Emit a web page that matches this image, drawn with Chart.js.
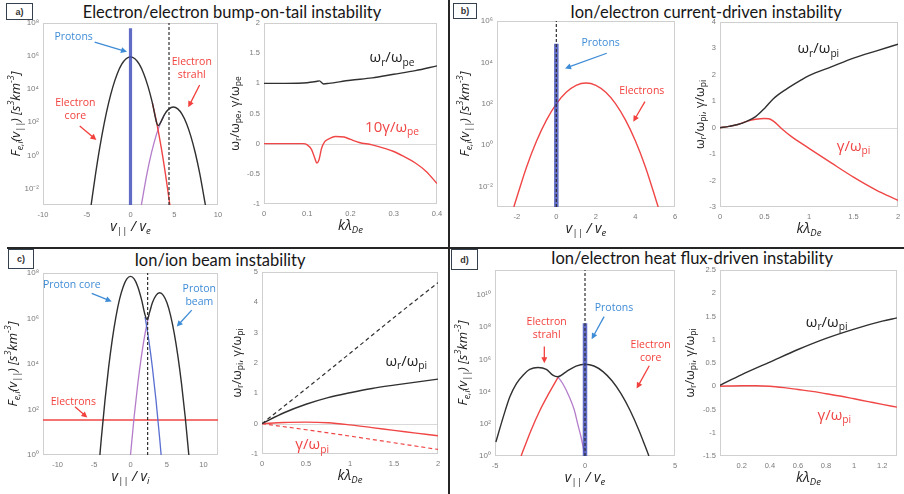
<!DOCTYPE html>
<html>
<head>
<meta charset="utf-8">
<title>Kinetic instabilities</title>
<script src="https://cdn.jsdelivr.net/npm/chart.js@4.4.1/dist/chart.umd.min.js"></script>
<style>
  body { margin: 0; width: 904px; height: 494px; position: relative; overflow: hidden; background: #fff; }
  canvas { position: absolute; }
  .title { position: absolute; transform: translate(-50%, -50%); font: 16.5px Lato, sans-serif; color: #161616; white-space: nowrap; }
  .tag { position: absolute; box-sizing: border-box; border: 1.6px solid #34404c; background: #fff; font: bold 9px 'Liberation Sans', sans-serif; color: #333; display: flex; align-items: center; justify-content: center; }
  .rule { position: absolute; background: #262626; }
</style>
</head>
<body>
<div class="rule" style="left:448px;top:0;width:2px;height:494px"></div>
<div class="rule" style="left:7px;top:247px;width:897px;height:2px"></div>
<div class="tag" style="left:6px;top:3px;width:27px;height:17px">a)</div>
<div class="tag" style="left:453px;top:3px;width:24px;height:16px">b)</div>
<div class="tag" style="left:8px;top:249px;width:26px;height:20px">c)</div>
<div class="tag" style="left:451px;top:249px;width:27px;height:21px">d)</div>
<div class="title" style="left:232px;top:12px">Electron/electron bump-on-tail instability</div>
<div class="title" style="left:706px;top:12px">Ion/electron current-driven instability</div>
<div class="title" style="left:220px;top:260px">Ion/ion beam instability</div>
<div class="title" style="left:692px;top:258px">Ion/electron heat flux-driven instability</div>
<script>
// ---------- a) bump-on-tail : distributions, log10 F ----------
const aTotalV = [-4.5, -4, -3.5, -3, -2.5, -2, -1.5, -1, -0.5, 0, 0.5, 1, 1.5, 2, 2.5, 3, 3.15, 3.4, 3.9, 4.4, 4.9, 5.4, 5.9, 6.4, 6.9, 7.4, 7.9, 8.56];
const aTotalLogF = [-3, -1.15, 0.51, 1.95, 3.17, 4.17, 4.95, 5.51, 5.84, 5.95, 5.84, 5.51, 4.95, 4.17, 3.17, 1.95, 1.8, 1.95, 2.48, 2.81, 2.92, 2.81, 2.48, 1.93, 1.15, 0.16, -1.06, -3];
const aCoreV = [2.5, 3, 3.5, 4, 4.5];
const aCoreLogF = [3.17, 1.95, 0.51, -1.15, -3];
const aStrahlV = [1.24, 1.9, 2.4, 2.9, 3.4, 3.9];
const aStrahlLogF = [-3, -1.06, 0.16, 1.15, 1.93, 2.48];
const aProtonV = [0, 0];
const aProtonLogF = [-3, 7.68];
const aDashV = 4.4;
// a) dispersion
const aWrK = [0, 0.05, 0.1, 0.12, 0.128, 0.138, 0.15, 0.2, 0.25, 0.3, 0.35, 0.4];
const aWr = [1.0, 1.0, 1.01, 1.03, 1.04, 0.99, 1.0, 1.05, 1.09, 1.15, 1.21, 1.29];
const aGamK = [0, 0.09, 0.1, 0.11, 0.118, 0.122, 0.127, 0.133, 0.14, 0.15, 0.165, 0.185, 0.2, 0.22, 0.25, 0.275, 0.3, 0.325, 0.35, 0.375, 0.4];
const aGam10 = [0, 0, -0.02, -0.1, -0.25, -0.32, -0.27, -0.08, 0.03, 0.08, 0.12, 0.11, 0.07, 0.02, -0.02, -0.07, -0.13, -0.22, -0.32, -0.46, -0.66];

// ---------- b) current-driven ----------
const bElecV = [-2.15, -1.5, -1, -0.5, 0, 0.5, 1, 1.5, 2, 2.5, 3, 3.5, 4, 4.5, 5.15];
const bElecLogF = [-3, -1.05, 0.19, 1.2, 1.99, 2.55, 2.89, 3.0, 2.89, 2.55, 1.99, 1.2, 0.19, -1.05, -3];
const bProtonV = [0, 0];
const bProtonLogF = [-3, 4.9];
const bDashV = 0;
const bK = [0, 0.1, 0.2, 0.3, 0.4, 0.5, 0.6, 0.75, 0.9, 1.0, 1.25, 1.5, 1.75, 2.0];
const bWr = [0, 0.05, 0.12, 0.24, 0.42, 0.73, 1.1, 1.47, 1.78, 1.97, 2.3, 2.63, 2.9, 3.16];
const bGamK = [0, 0.1, 0.2, 0.3, 0.4, 0.5, 0.55, 0.6, 0.7, 0.8, 1.0, 1.25, 1.5, 1.75, 2.0];
const bGam = [0, 0.05, 0.12, 0.24, 0.32, 0.35, 0.34, 0.25, -0.06, -0.33, -0.78, -1.33, -1.87, -2.35, -2.75];

// ---------- c) ion/ion beam ----------
const cTotalV = [-4.2, -4, -3.5, -3, -2.5, -2, -1.5, -1, -0.5, 0, 0.5, 1, 1.5, 2, 2.3, 2.6, 3, 3.5, 4, 4.5, 5, 5.5, 6, 6.5, 7, 7.5, 8];
const cTotalLogF = [0, 0.73, 2.4, 3.85, 5.07, 6.07, 6.85, 7.4, 7.74, 7.85, 7.74, 7.4, 6.85, 6.15, 5.95, 6.25, 6.69, 7.02, 7.13, 7.02, 6.69, 6.13, 5.35, 4.35, 3.13, 1.68, 0];
const cCoreV = [2, 2.5, 3, 3.5, 4, 4.2];
const cCoreLogF = [6.07, 5.07, 3.85, 2.4, 0.73, 0];
const cBeamV = [0, 0.5, 1, 1.5, 2, 2.5];
const cBeamLogF = [0, 1.68, 3.13, 4.35, 5.35, 6.13];
const cElecV = [-12, 12];
const cElecLogF = [1.54, 1.54];
const cDashV = 2.35;
const cK = [0, 0.25, 0.5, 0.75, 1, 1.25, 1.5, 1.75, 2];
const cWr = [0, 0.36, 0.64, 0.86, 1.02, 1.16, 1.27, 1.37, 1.47];
const cGam = [0, 0.04, 0.05, 0.03, -0.04, -0.13, -0.22, -0.31, -0.4];
const cDashK = [0, 0.5, 1, 1.5, 2];
const cWrDash = [0, 1.15, 2.32, 3.5, 4.65];
const cGamDash = [0, -0.2, -0.41, -0.63, -0.85];

// ---------- d) heat flux-driven ----------
const dTotalV = [-4.95, -4.54, -4.18, -3.81, -3.44, -3.07, -2.61, -2.15, -1.79, -1.51, -1.05, -0.5, 0, 0.5, 1, 1.5, 2, 2.5, 3, 3.55];
const dTotalLogF = [0.87, 2.43, 3.67, 4.5, 5.02, 5.38, 5.5, 5.38, 5.02, 4.92, 5.23, 5.58, 5.7, 5.59, 5.24, 4.67, 3.87, 2.84, 1.59, 0];
const dCoreV = [-3.55, -3, -2.5, -2, -1.5];
const dCoreLogF = [0, 1.59, 2.84, 3.9, 4.88];
const dStrahlV = [-1.51, -1.24, -0.87, -0.59, -0.41, -0.22, 0];
const dStrahlLogF = [4.92, 4.5, 3.67, 2.84, 2.01, 1.18, 0];
const dProtonV = [0, 0];
const dProtonLogF = [0, 8.24];
const dDashV = 0;
const dK = [0.045, 0.2, 0.4, 0.6, 0.8, 1.0, 1.2, 1.305];
const dWr = [0.02, 0.25, 0.52, 0.79, 1.03, 1.23, 1.4, 1.47];
const dGamK = [0.045, 0.2, 0.3, 0.4, 0.5, 0.6, 0.7, 0.8, 0.9, 1.0, 1.1, 1.2, 1.305];
const dGam = [0, 0.01, 0.01, 0, -0.03, -0.07, -0.11, -0.16, -0.21, -0.27, -0.33, -0.39, -0.45];

// tick labels
const aLeftXTicks = [-10, -5, 0, 5, 10], aLeftYExp = [-2, 0, 2, 4, 6, 8];
const aRightXTicks = [0, 0.1, 0.2, 0.3, 0.4], aRightYTicks = [-1, -0.5, 0, 0.5, 1, 1.5, 2];
const bLeftXTicks = [-2, 0, 2, 4, 6], bLeftYExp = [-2, 0, 2, 4, 6];
const bRightXTicks = [0, 0.5, 1, 1.5, 2], bRightYTicks = [-3, -2, -1, 0, 1, 2, 3, 4];
const cLeftXTicks = [-10, -5, 0, 5, 10], cLeftYExp = [0, 2, 4, 6, 8];
const cRightXTicks = [0, 0.5, 1, 1.5, 2], cRightYTicks = [-1, 0, 1, 2, 3, 4, 5];
const dLeftXTicks = [-5, 0, 5], dLeftYExp = [0, 2, 4, 6, 8, 10];
const dRightXTicks = [0.2, 0.4, 0.6, 0.8, 1, 1.2], dRightYTicks = [-1.5, -1, -0.5, 0, 0.5, 1, 1.5, 2, 2.5];

const TICK_FONT = "'Liberation Sans', Arial, sans-serif";
const TEXT_FONT = "'Open Sans', 'DejaVu Sans', sans-serif";
const INK = '#303030', RED = '#f04646', MAGENTA = '#b47ccb', PROTON = 'rgba(62,76,186,0.82)';
const NOTE_RED = '#f2403c', NOTE_BLUE = '#3f8cd6';

const SUP = { '0': '⁰', '1': '¹', '2': '²', '3': '³', '4': '⁴', '5': '⁵', '6': '⁶', '7': '⁷', '8': '⁸', '9': '⁹', '-': '⁻' };
const sup = n => String(n).split('').map(c => SUP[c]).join('');

// "a_{b}^{c}" -> pieces with sub/sup mode
function richParts(s) {
    const out = [];
    let buf = '', i = 0;
    while (i < s.length) {
        const c = s[i];
        if ((c === '_' || c === '^') && s[i + 1] === '{') {
            if (buf) { out.push({ t: buf, m: 0 }); buf = ''; }
            const j = s.indexOf('}', i);
            out.push({ t: s.slice(i + 2, j), m: c === '_' ? -1 : 1 });
            i = j + 1;
        } else { buf += c; i++; }
    }
    if (buf) out.push({ t: buf, m: 0 });
    return out;
}

function drawRich(ctx, s, x, y, size, color, italic) {
    const parts = richParts(s);
    const font = sz => (italic ? 'italic ' : '') + sz + 'px ' + TEXT_FONT;
    let w = 0;
    parts.forEach(p => { ctx.font = font(p.m ? size * 0.68 : size); p.w = ctx.measureText(p.t).width; w += p.w; });
    let cx = x - w / 2;
    ctx.fillStyle = color;
    ctx.textAlign = 'left';
    ctx.textBaseline = 'middle';
    parts.forEach(p => {
        ctx.font = font(p.m ? size * 0.68 : size);
        const dy = p.m === -1 ? size * 0.32 : p.m === 1 ? -size * 0.36 : 0;
        ctx.fillText(p.t, cx, y + dy);
        cx += p.w;
    });
}

function drawArrow(ctx, x1, y1, x2, y2, color) {
    const ang = Math.atan2(y2 - y1, x2 - x1), L = 6, W = 3;
    const c = Math.cos(ang), s = Math.sin(ang);
    ctx.strokeStyle = color; ctx.fillStyle = color; ctx.lineWidth = 1.3;
    ctx.beginPath(); ctx.moveTo(x1, y1); ctx.lineTo(x2 - L * 0.7 * c, y2 - L * 0.7 * s); ctx.stroke();
    ctx.beginPath(); ctx.moveTo(x2, y2);
    ctx.lineTo(x2 - L * c + W * s, y2 - L * s - W * c);
    ctx.lineTo(x2 - L * c - W * s, y2 - L * s + W * c);
    ctx.closePath(); ctx.fill();
}

// axis box, zero line, axis titles, labels and arrows
const deco = {
    id: 'deco',
    beforeDatasetsDraw(chart, args, o) {
        const { ctx, chartArea: a } = chart;
        ctx.save();
        ctx.lineWidth = 1;
        if (o.zero) {
            const y0 = Math.round(chart.scales.y.getPixelForValue(0)) + 0.5;
            ctx.strokeStyle = '#d9d9d9';
            ctx.beginPath(); ctx.moveTo(a.left, y0); ctx.lineTo(a.right, y0); ctx.stroke();
        }
        ctx.strokeStyle = '#cfcfcf';
        ctx.strokeRect(a.left + 0.5, a.top + 0.5, a.width - 1, a.height - 1);
        ctx.restore();
    },
    afterDatasetsDraw(chart, args, o) {
        const { ctx, chartArea: a, scales } = chart;
        ctx.save();
        drawRich(ctx, o.xTitle, (a.left + a.right) / 2, a.bottom + 22, 14, '#222', true);
        ctx.save();
        ctx.translate(a.left - o.yGap, (a.top + a.bottom) / 2);
        ctx.rotate(-Math.PI / 2);
        drawRich(ctx, o.yTitle, 0, 0, o.ySize, '#222', o.yItalic);
        ctx.restore();
        (o.notes || []).forEach(n => {
            const px = scales.x.getPixelForValue(n.x), py = scales.y.getPixelForValue(n.y);
            const lines = [].concat(n.text), lh = n.size * 1.25;
            lines.forEach((t, i) => drawRich(ctx, t, px, py + (i - (lines.length - 1) / 2) * lh, n.size, n.color, false));
        });
        (o.arrows || []).forEach(r => drawArrow(ctx,
            scales.x.getPixelForValue(r.x1), scales.y.getPixelForValue(r.y1),
            scales.x.getPixelForValue(r.x2), scales.y.getPixelForValue(r.y2), r.color));
        ctx.restore();
    }
};
Chart.register(deco);

function axis(spec, size, isX) {
    const log = spec.log;
    const ticks = log ? spec.ticks.map(e => 10 ** e) : spec.ticks;
    return {
        type: log ? 'logarithmic' : 'linear',
        min: spec.min, max: spec.max,
        afterBuildTicks: s => { s.ticks = ticks.map(v => ({ value: v })); },
        afterFit: s => {
            if (isX) s.height = size; else s.width = size;
            s.paddingLeft = s.paddingRight = s.paddingTop = s.paddingBottom = 0;
        },
        grid: { display: false, drawTicks: false },
        border: { display: false },
        ticks: {
            font: { size: log ? 8 : 7.5, family: TICK_FONT }, color: '#7a7a7a', padding: isX ? 5 : 4,
            maxRotation: 0, minRotation: 0, autoSkip: false,
            callback: v => log ? '10' + sup(Math.round(Math.log10(v))) : String(v)
        }
    };
}

function makeChart(plot, pad, xs, ys, datasets, d) {
    const [l, t, r, b] = plot, [pl, pt, pr, pb] = pad;
    const cv = document.createElement('canvas');
    cv.width = r - l + pl + pr;
    cv.height = b - t + pt + pb;
    Object.assign(cv.style, { left: (l - pl) + 'px', top: (t - pt) + 'px', width: cv.width + 'px', height: cv.height + 'px' });
    document.body.appendChild(cv);
    return new Chart(cv, {
        type: 'line',
        data: { datasets },
        options: {
            responsive: false, animation: false, devicePixelRatio: 1,
            layout: { padding: { left: 0, top: pt, right: pr, bottom: 0 } },
            plugins: { legend: { display: false }, tooltip: { enabled: false }, deco: d },
            scales: { x: axis(xs, pb, true), y: axis(ys, pl, false) }
        }
    });
}

const xy = (xs, ys) => xs.map((x, i) => ({ x, y: ys[i] }));
const xLog = (xs, ls) => xs.map((x, i) => ({ x, y: 10 ** ls[i] }));
const curve = (data, color, width, more) => Object.assign({
    data, borderColor: color, borderWidth: width, pointRadius: 0, fill: false, cubicInterpolationMode: 'monotone'
}, more || {});
const straight = { cubicInterpolationMode: 'default', tension: 0 };
const vdash = (v, lo, hi) => curve([{ x: v, y: 10 ** lo }, { x: v, y: 10 ** hi }], INK, 1.2, Object.assign({ borderDash: [3, 2] }, straight));
const protonBar = (xs, ls, w) => curve(xLog(xs, ls), PROTON, w, straight);

const FLEFT = 'F_{e,i}(v_{||}) [s^{3}km^{-3}]';

// ---- a) ----
makeChart([43, 23, 218, 205], [43, 10, 10, 35],
    { min: -10, max: 10, ticks: aLeftXTicks }, { log: true, min: 1e-3, max: 1e8, ticks: aLeftYExp },
    [vdash(aDashV, -3, 8), protonBar(aProtonV, aProtonLogF, 3.2),
     curve(xLog(aTotalV, aTotalLogF), INK, 1.4), curve(xLog(aCoreV, aCoreLogF), RED, 1.4),
     curve(xLog(aStrahlV, aStrahlLogF), MAGENTA, 1.3)],
    { xTitle: 'v_{||} / v_{e}', yTitle: FLEFT, yGap: 27, ySize: 13, yItalic: true,
      notes: [{ x: -6.5, y: 1.4e7, text: 'Protons', color: NOTE_BLUE, size: 10.5 },
              { x: -6.3, y: 6e2, text: ['Electron', 'core'], color: NOTE_RED, size: 10.5 },
              { x: 7.0, y: 1.8e5, text: ['Electron', 'strahl'], color: NOTE_RED, size: 10.5 }],
      arrows: [{ x1: -4.1, y1: 7e6, x2: -0.4, y2: 1.8e6, color: NOTE_BLUE },
               { x1: -5.8, y1: 60, x2: -3.9, y2: 8.5, color: NOTE_RED },
               { x1: 7.9, y1: 1.8e4, x2: 6.6, y2: 8e2, color: NOTE_RED }] });

makeChart([264, 23, 437, 204], [40, 10, 10, 35],
    { min: 0, max: 0.4, ticks: aRightXTicks }, { min: -1, max: 2, ticks: aRightYTicks },
    [curve(xy(aWrK, aWr), INK, 1.4), curve(xy(aGamK, aGam10), RED, 1.4)],
    { zero: true, xTitle: 'kλ_{De}', yTitle: 'ω_{r}/ω_{pe}, γ/ω_{pe}', yGap: 29, ySize: 12.5,
      notes: [{ x: 0.296, y: 1.42, text: 'ω_{r}/ω_{pe}', color: '#222', size: 15 },
              { x: 0.296, y: 0.27, text: '10γ/ω_{pe}', color: RED, size: 15 }] });

// ---- b) ----
makeChart([497, 21, 675, 207], [45, 10, 10, 35],
    { min: -3, max: 6, ticks: bLeftXTicks }, { log: true, min: 1e-3, max: 1e6, ticks: bLeftYExp },
    [vdash(bDashV, -3, 6), protonBar(bProtonV, bProtonLogF, 4.5), curve(xLog(bElecV, bElecLogF), RED, 1.4)],
    { xTitle: 'v_{||} / v_{e}', yTitle: FLEFT, yGap: 32, ySize: 13, yItalic: true,
      notes: [{ x: 2.24, y: 8.9e4, text: 'Protons', color: NOTE_BLUE, size: 10.5 },
              { x: 4.32, y: 430, text: 'Electrons', color: NOTE_RED, size: 10.5 }],
      arrows: [{ x1: 2.55, y1: 2.75e4, x2: 0.44, y2: 5.1e3, color: NOTE_BLUE },
               { x1: 4.48, y1: 126, x2: 3.89, y2: 13.5, color: NOTE_RED }] });

makeChart([720, 22, 898, 207], [40, 10, 6, 35],
    { min: 0, max: 2, ticks: bRightXTicks }, { min: -3, max: 4, ticks: bRightYTicks },
    [curve(xy(bK, bWr), INK, 1.4), curve(xy(bGamK, bGam), RED, 1.4)],
    { zero: true, xTitle: 'kλ_{De}', yTitle: 'ω_{r}/ω_{pi}, γ/ω_{pi}', yGap: 20, ySize: 12.5,
      notes: [{ x: 1.105, y: 2.97, text: 'ω_{r}/ω_{pi}', color: '#222', size: 15 },
              { x: 1.5, y: -0.72, text: 'γ/ω_{pi}', color: RED, size: 15 }] });

// ---- c) ----
makeChart([43, 273, 218, 455], [43, 10, 10, 35],
    { min: -12, max: 12, ticks: cLeftXTicks }, { log: true, min: 1, max: 1e8, ticks: cLeftYExp },
    [vdash(cDashV, 0, 8), curve(xLog(cTotalV, cTotalLogF), INK, 1.4),
     curve(xLog(cCoreV, cCoreLogF), '#5a6fd0', 1.3), curve(xLog(cBeamV, cBeamLogF), MAGENTA, 1.3),
     curve(xLog(cElecV, cElecLogF), RED, 1.4, straight)],
    { xTitle: 'v_{||} / v_{i}', yTitle: FLEFT, yGap: 30, ySize: 13, yItalic: true,
      notes: [{ x: -8.06, y: 2.95e7, text: 'Proton core', color: NOTE_BLUE, size: 10.5 },
              { x: 9.44, y: 1e7, text: ['Proton', 'beam'], color: NOTE_BLUE, size: 10.5 },
              { x: -7.84, y: 219, text: 'Electrons', color: NOTE_RED, size: 10.5 }],
      arrows: [{ x1: -5.32, y1: 1.26e7, x2: -2.58, y2: 5.6e6, color: NOTE_BLUE },
               { x1: 8.4, y1: 2.34e6, x2: 6.34, y2: 4.4e5, color: NOTE_BLUE },
               { x1: -7.61, y1: 132, x2: -5.92, y2: 44, color: NOTE_RED }] });

makeChart([262, 272, 438, 454], [40, 10, 10, 35],
    { min: 0, max: 2, ticks: cRightXTicks }, { min: -1, max: 5, ticks: cRightYTicks },
    [curve(xy(cK, cWr), INK, 1.4), curve(xy(cK, cGam), RED, 1.4),
     curve(xy(cDashK, cWrDash), INK, 1.2, { borderDash: [4, 3] }),
     curve(xy(cDashK, cGamDash), RED, 1.2, { borderDash: [4, 3] })],
    { zero: true, xTitle: 'kλ_{De}', yTitle: 'ω_{r}/ω_{pi}, γ/ω_{pi}', yGap: 25, ySize: 12.5,
      notes: [{ x: 1.64, y: 2.04, text: 'ω_{r}/ω_{pi}', color: '#222', size: 15 },
              { x: 0.57, y: -0.7, text: 'γ/ω_{pi}', color: RED, size: 15 }] });

// ---- d) ----
makeChart([495, 270, 675, 456], [43, 10, 10, 35],
    { min: -5, max: 5, ticks: dLeftXTicks }, { log: true, min: 1, max: 10 ** 11.55, ticks: dLeftYExp },
    [vdash(dDashV, 0, 11.55), protonBar(dProtonV, dProtonLogF, 4.5),
     curve(xLog(dTotalV, dTotalLogF), INK, 1.4), curve(xLog(dCoreV, dCoreLogF), RED, 1.4),
     curve(xLog(dStrahlV, dStrahlLogF), MAGENTA, 1.3)],
    { xTitle: 'v_{||} / v_{e}', yTitle: FLEFT, yGap: 32, ySize: 13, yItalic: true,
      notes: [{ x: -2.13, y: 8.5e7, text: ['Electron', 'strahl'], color: NOTE_RED, size: 10.5 },
              { x: 1.61, y: 1.6e9, text: 'Protons', color: NOTE_BLUE, size: 10.5 },
              { x: 3.65, y: 2.95e6, text: ['Electron', 'core'], color: NOTE_RED, size: 10.5 }],
      arrows: [{ x1: -2.26, y1: 6.2e6, x2: -2.26, y2: 5.75e5, color: NOTE_RED },
               { x1: 1.06, y1: 4.5e8, x2: 0.37, y2: 1.8e7, color: NOTE_BLUE },
               { x1: 3.57, y1: 4e5, x2: 2.87, y2: 1.55e4, color: NOTE_RED }] });

makeChart([720, 270, 897, 456], [40, 10, 7, 35],
    { min: 0.045, max: 1.305, ticks: dRightXTicks }, { min: -1.5, max: 2.5, ticks: dRightYTicks },
    [curve(xy(dK, dWr), INK, 1.4), curve(xy(dGamK, dGam), RED, 1.4)],
    { zero: true, xTitle: 'kλ_{De}', yTitle: 'ω_{r}/ω_{pi}, γ/ω_{pi}', yGap: 30, ySize: 12.5,
      notes: [{ x: 0.804, y: 1.375, text: 'ω_{r}/ω_{pi}', color: '#222', size: 15 },
              { x: 0.859, y: -0.63, text: 'γ/ω_{pi}', color: RED, size: 15 }] });
</script>
</body>
</html>
